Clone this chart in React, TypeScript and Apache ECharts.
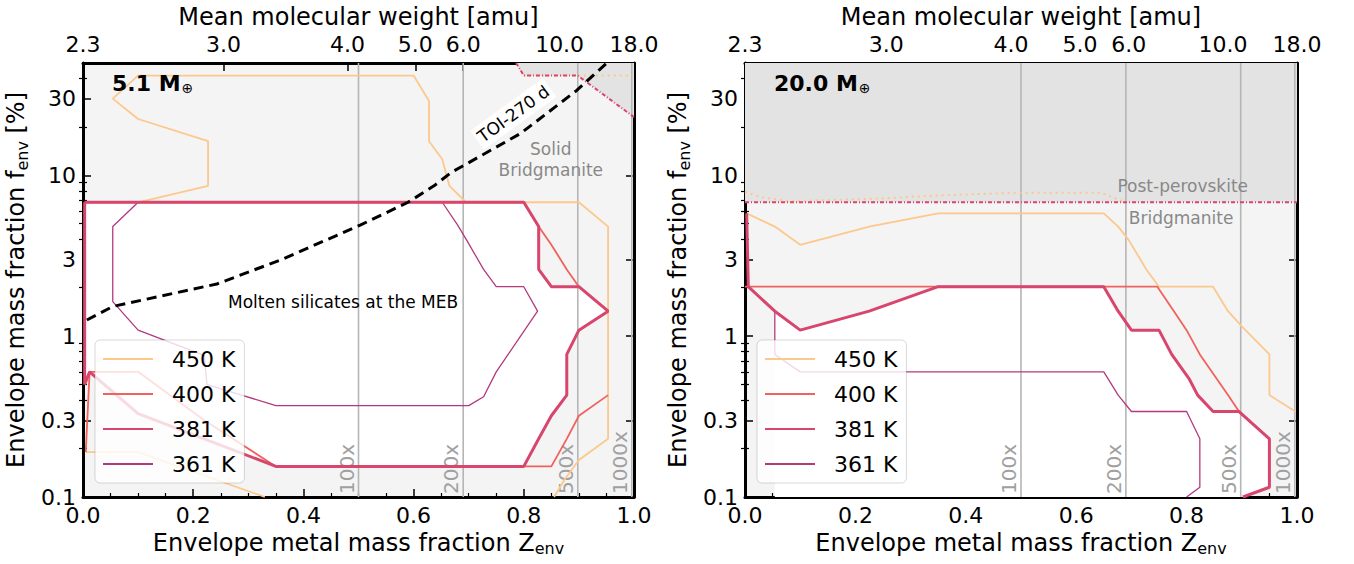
import React, { useEffect, useRef } from "react";
import * as echarts from "echarts";

const FONT = "DejaVu Sans";

// ---------- axes ----------
const muTickZLeft = [0, 0.255, 0.48, 0.603, 0.69, 0.865, 1.0];
const muTickZRight = [0, 0.256, 0.482, 0.607, 0.695, 0.866, 1.0];
const muLabels = ["2.3", "3.0", "4.0", "5.0", "6.0", "10.0", "18.0"];
const fMajorTicks = [0.1, 0.3, 1, 3, 10, 30];
const fMinorTicks = [0.2, 0.4, 0.5, 0.6, 0.7, 0.8, 0.9, 2, 4, 5, 6, 7, 8, 9, 20, 40];

// ---------- legend / temperatures ----------
const tempNames = ["450 K", "400 K", "381 K", "361 K"];
const tempColors = ["#fcc88d", "#f0625d", "#d8456d", "#b3397f"];
const tempWidths = [1.8, 1.8, 3, 1.3];

// ---------- metallicity reference lines ----------
const metallicityZ = [0.5, 0.69, 0.898, 0.996];
const metallicityLabels = ["100x", "200x", "500x", "1000x"];

// ---------- left panel: 5.1 Earth masses ----------
const left450Upper = [
  [0.1, 6.8], [0.227, 8.6], [0.227, 16.3], [0.1, 22.4], [0.054, 30], [0.1, 41.7],
  [0.6, 41.7], [0.628, 29], [0.628, 16.3], [0.652, 12.6], [0.665, 8.6], [0.695, 6.8],
  [0.9, 6.8], [0.953, 4.8], [0.953, 0.23], [0.9, 0.17], [0.875, 0.13], [0.855, 0.1],
];
const left450Lower = [[0.005, 0.19], [0.1, 0.19], [0.33, 0.1]];
const left400Upper = [
  [0.003, 6.8], [0.8, 6.8], [0.827, 4.8], [0.85, 3.7], [0.878, 2.6], [0.9, 2.03], [0.953, 1.43],
];
const left400Lower = [
  [0.953, 0.43], [0.9, 0.32], [0.878, 0.23], [0.85, 0.155], [0.35, 0.155], [0.22, 0.3],
  [0.1, 0.6], [0.012, 0.6], [0.005, 0.19],
];
const left381 = [
  [0.003, 6.8], [0.8, 6.8], [0.827, 4.8], [0.827, 2.6], [0.85, 2.03], [0.9, 2.03], [0.953, 1.43],
  [0.9, 1.09], [0.878, 0.77], [0.878, 0.43], [0.85, 0.32], [0.827, 0.23], [0.8, 0.155],
  [0.35, 0.155], [0.22, 0.23], [0.1, 0.33], [0.012, 0.6], [0.003, 0.5], [0.003, 6.8],
];
const left361 = [
  [0.652, 6.8], [0.1, 6.8], [0.054, 4.8], [0.054, 1.64], [0.1, 1.09], [0.22, 0.76], [0.225, 0.5],
  [0.35, 0.37], [0.7, 0.37], [0.727, 0.42], [0.75, 0.6], [0.825, 1.43], [0.8, 2.03], [0.75, 2.03],
  [0.727, 2.6], [0.696, 3.97], [0.68, 4.9], [0.652, 6.8],
];
const leftTOI = [
  [0.007, 1.26], [0.054, 1.53], [0.243, 2.11], [0.361, 3.0], [0.503, 4.9], [0.59, 6.8],
  [0.637, 8.6], [0.668, 10.4], [0.794, 18.2], [0.896, 33.7], [0.951, 50],
];
const leftPhaseLine = [[0.786, 50], [0.8, 41.7], [0.898, 41.7], [1.0, 23]];
const leftPhaseLine450 = [[0.8, 41.7], [1.0, 41.7]];
const leftMoltenRegion = [
  [0.003, 6.8], [0.8, 6.8], [0.827, 4.8], [0.827, 2.6], [0.85, 2.03], [0.9, 2.03], [0.953, 1.43],
  [0.9, 1.09], [0.878, 0.77], [0.878, 0.43], [0.85, 0.32], [0.827, 0.23], [0.8, 0.155],
  [0.35, 0.155], [0.22, 0.23], [0.1, 0.33], [0.012, 0.6], [0.003, 0.5],
];
const leftPostPerovskiteRegion = [[0.786, 50], [0.8, 41.7], [0.898, 41.7], [1.0, 23], [1.0, 50]];
const leftNotePos = [[0.472, 1.64], [0.849, 12.6], [0.781, 24.1]];
const leftNoteText = ["Molten silicates at the MEB", "Solid\nBridgmanite", "TOI-270 d"];

// ---------- right panel: 20.0 Earth masses ----------
const right450 = [
  [0.003, 5.8], [0.054, 4.8], [0.1, 3.7], [0.225, 4.8], [0.35, 5.8], [0.65, 5.8], [0.676, 4.8],
  [0.695, 3.97], [0.727, 2.6], [0.75, 2.03], [0.848, 2.03], [0.875, 1.43], [0.9, 1.15],
  [0.95, 0.77], [0.95, 0.43], [0.997, 0.34],
];
const right400 = [
  [0.0, 2.03], [0.747, 2.03], [0.777, 1.43], [0.8, 1.09], [0.824, 0.77], [0.852, 0.56],
  [0.875, 0.43], [0.895, 0.34],
];
const right381 = [
  [0.003, 5.8], [0.006, 2.03], [0.054, 1.43], [0.1, 1.09], [0.225, 1.43], [0.35, 2.03],
  [0.65, 2.03], [0.676, 1.43], [0.7, 1.09], [0.75, 1.09], [0.773, 0.77], [0.805, 0.54],
  [0.82, 0.43], [0.848, 0.34], [0.895, 0.34], [0.95, 0.23], [0.95, 0.115], [0.902, 0.1],
];
const right361 = [
  [0.006, 2.03], [0.054, 1.43], [0.054, 0.77], [0.1, 0.6], [0.65, 0.6], [0.676, 0.43],
  [0.7, 0.34], [0.8, 0.34], [0.824, 0.23], [0.824, 0.115], [0.8, 0.1],
];
const rightPhaseLine = [[0.0, 6.8], [1.0, 6.8]];
const rightPhaseLine450 = [
  [0.0, 7.9], [0.03, 7.3], [0.08, 6.9], [0.256, 7.2], [0.35, 7.5], [0.498, 7.8], [0.645, 7.8],
  [0.689, 6.8],
];
const rightMoltenRegion = [
  [0.054, 1.43], [0.1, 1.09], [0.225, 1.43], [0.35, 2.03], [0.65, 2.03], [0.676, 1.43],
  [0.7, 1.09], [0.75, 1.09], [0.773, 0.77], [0.805, 0.54], [0.82, 0.43], [0.848, 0.34],
  [0.895, 0.34], [0.95, 0.23], [0.95, 0.115], [0.902, 0.1], [0.054, 0.1],
];
const rightPostPerovskiteRegion = [[0.0, 6.8], [1.0, 6.8], [1.0, 50], [0.0, 50]];
const rightNotePos = [[0.793, 8.6], [0.79, 5.4]];
const rightNoteText = ["Post-perovskite", "Bridgmanite"];

const panelMass = ["5.1", "20.0"];

const noteStyles: Record<string, any> = {
  "Molten silicates at the MEB": { fill: "#000", rotation: 0 },
  "Solid\nBridgmanite": { fill: "#888888", rotation: 0 },
  "TOI-270 d": { fill: "#000", rotation: (36 * Math.PI) / 180, bg: "#ffffff" },
  "Post-perovskite": { fill: "#888888", rotation: 0 },
  Bridgmanite: { fill: "#888888", rotation: 0 },
};

function buildOption() {
  const grids = [
    { left: 83, top: 55, width: 551, height: 442 },
    { left: 745, top: 55, width: 552, height: 442 },
  ];
  const subRich = {
    a: { fontSize: 24, fontFamily: FONT, color: "#000" },
    s: { fontSize: 16, fontFamily: FONT, color: "#000", padding: [12, 0, 0, 0] },
  };
  const xAxis: any[] = [];
  const yAxis: any[] = [];
  grids.forEach((_, g) => {
    const muZ = g === 0 ? muTickZLeft : muTickZRight;
    xAxis.push({
      gridIndex: g, type: "value", min: 0, max: 1, interval: 0.2, position: "bottom",
      axisLine: { show: true, onZero: false, lineStyle: { color: "#000", width: 3 } },
      axisTick: { show: true, inside: true, length: 8, lineStyle: { color: "#000", width: 1.5 } },
      minorTick: { show: true, splitNumber: 4, length: 4, lineStyle: { color: "#000", width: 1.2 } },
      splitLine: { show: false },
      axisLabel: { fontSize: 22, color: "#000", fontFamily: FONT, margin: 7, formatter: (v: number) => v.toFixed(1) },
      name: "{a|Envelope metal mass fraction Z}{s|env}",
      nameLocation: "middle", nameGap: 31,
      nameTextStyle: { rich: subRich },
    });
    xAxis.push({
      gridIndex: g, type: "value", min: 0, max: 1, position: "top",
      axisLine: { show: true, onZero: false, lineStyle: { color: "#000", width: 3 } },
      axisTick: { show: true, inside: true, length: 8, customValues: muZ, lineStyle: { color: "#000", width: 1.5 } },
      axisLabel: {
        show: true, customValues: muZ, fontSize: 22, color: "#000", fontFamily: FONT, margin: 7,
        formatter: (v: number) => {
          let best = 0;
          muZ.forEach((p, i) => { if (Math.abs(p - v) < Math.abs(muZ[best] - v)) best = i; });
          return muLabels[best];
        },
      },
      splitLine: { show: false },
      name: "Mean molecular weight [amu]",
      nameLocation: "middle", nameGap: 30,
      nameTextStyle: { fontSize: 24, fontFamily: FONT, color: "#000" },
    });
    const yBase = {
      gridIndex: g, type: "log", logBase: 10, min: 0.1, max: 50,
      splitLine: { show: false },
      minorTick: { show: false },
    };
    const fmt = (v: number) => String(Math.round(v * 1000) / 1000);
    yAxis.push({
      ...yBase, position: "left",
      axisLine: { show: true, onZero: false, lineStyle: { color: "#000", width: 3 } },
      axisTick: { show: true, inside: true, length: 8, customValues: fMajorTicks, lineStyle: { color: "#000", width: 1.5 } },
      axisLabel: { show: true, customValues: fMajorTicks, formatter: fmt, fontSize: 22, color: "#000", fontFamily: FONT, margin: 7 },
      name: "{a|Envelope mass fraction f}{s|env}{a| [%]}",
      nameLocation: "middle", nameGap: 53,
      nameTextStyle: { rich: subRich },
    });
    yAxis.push({
      ...yBase, position: "left",
      axisLine: { show: false },
      axisTick: { show: true, inside: true, length: 4, customValues: fMinorTicks, lineStyle: { color: "#000", width: 1.2 } },
      axisLabel: { show: false },
    });
    yAxis.push({
      ...yBase, position: "right",
      axisLine: { show: true, onZero: false, lineStyle: { color: "#000", width: 3 } },
      axisTick: { show: true, inside: true, length: 8, customValues: fMajorTicks, lineStyle: { color: "#000", width: 1.5 } },
      axisLabel: { show: false },
    });
    yAxis.push({
      ...yBase, position: "right",
      axisLine: { show: false },
      axisTick: { show: true, inside: true, length: 4, customValues: fMinorTicks, lineStyle: { color: "#000", width: 1.2 } },
      axisLabel: { show: false },
    });
  });

  const series: any[] = [];
  const polygon = (g: number, pts: number[][], color: string, z: number) => ({
    type: "custom", name: "region", coordinateSystem: "cartesian2d",
    xAxisIndex: 2 * g, yAxisIndex: 4 * g, data: pts, encode: { x: 0, y: 1 }, z, silent: true,
    renderItem: (params: any, api: any) => {
      if (params.dataIndex !== 0) return null;
      return { type: "polygon", shape: { points: pts.map((p) => api.coord(p)) }, style: { fill: color } };
    },
  });
  const line = (g: number, name: string, pts: number[][], color: string, width: number, z: number, type: any = "solid") => ({
    type: "line", name, xAxisIndex: 2 * g, yAxisIndex: 4 * g, data: pts, z,
    symbol: "none", showSymbol: false, silent: true, emphasis: { disabled: true },
    color, itemStyle: { color },
    lineStyle: { color, width, type },
  });
  const metal = (g: number) => ({
    type: "custom", name: "metallicity", coordinateSystem: "cartesian2d",
    xAxisIndex: 2 * g, yAxisIndex: 4 * g, data: metallicityZ.map((z) => [z, 0.1]),
    encode: { x: 0, y: 1 }, z: 2, silent: true,
    renderItem: (params: any, api: any) => {
      const z = metallicityZ[params.dataIndex];
      const bot = api.coord([z, 0.1]);
      const top = api.coord([z, 50]);
      return {
        type: "group",
        children: [
          { type: "line", shape: { x1: bot[0], y1: bot[1], x2: top[0], y2: top[1] }, style: { stroke: "#b5b5b5", lineWidth: 1.6 } },
          {
            type: "text", x: bot[0] - 2, y: bot[1] - 3, rotation: Math.PI / 2,
            style: { text: metallicityLabels[params.dataIndex], fill: "#a0a0a0", font: `20px "${FONT}"`, align: "left", verticalAlign: "bottom" },
          },
        ],
      };
    },
  });
  const notes = (g: number, pos: number[][], texts: string[]) => ({
    type: "custom", name: "notes", coordinateSystem: "cartesian2d",
    xAxisIndex: 2 * g, yAxisIndex: 4 * g, data: pos, encode: { x: 0, y: 1 }, z: 8, silent: true,
    renderItem: (params: any, api: any) => {
      const t = texts[params.dataIndex];
      const st = noteStyles[t];
      const c = api.coord(pos[params.dataIndex]);
      return {
        type: "text", x: c[0], y: c[1], rotation: st.rotation,
        style: {
          text: t, fill: st.fill, font: `17px "${FONT}"`, align: "center", verticalAlign: "middle",
          lineHeight: 21, backgroundColor: st.bg, padding: st.bg ? [1, 3, 1, 3] : 0,
        },
      };
    },
  });

  // left panel
  series.push(polygon(0, leftMoltenRegion, "#ffffff", 1));
  series.push(polygon(0, leftPostPerovskiteRegion, "#e3e3e3", 1));
  series.push(metal(0));
  series.push(line(0, tempNames[0], left450Upper, tempColors[0], tempWidths[0], 3));
  series.push(line(0, tempNames[0], left450Lower, tempColors[0], tempWidths[0], 3));
  series.push(line(0, tempNames[1], left400Upper, tempColors[1], tempWidths[1], 4));
  series.push(line(0, tempNames[1], left400Lower, tempColors[1], tempWidths[1], 4));
  series.push(line(0, tempNames[3], left361, tempColors[3], tempWidths[3], 5));
  series.push(line(0, tempNames[2], left381, tempColors[2], tempWidths[2], 6));
  series.push(line(0, "pp450", leftPhaseLine450, tempColors[0], 2, 6, [2, 4]));
  series.push(line(0, "pp381", leftPhaseLine, "#d94470", 2, 7, [4, 2, 1, 2]));
  series.push(line(0, "TOI-270 d", leftTOI, "#000000", 3, 7, [10, 6]));
  series.push(notes(0, leftNotePos, leftNoteText));

  // right panel
  series.push(polygon(1, rightPostPerovskiteRegion, "#e3e3e3", 1));
  series.push(polygon(1, rightMoltenRegion, "#ffffff", 1));
  series.push(metal(1));
  series.push(line(1, tempNames[0], right450, tempColors[0], tempWidths[0], 3));
  series.push(line(1, tempNames[1], right400, tempColors[1], tempWidths[1], 4));
  series.push(line(1, tempNames[3], right361, tempColors[3], tempWidths[3], 5));
  series.push(line(1, tempNames[2], right381, tempColors[2], tempWidths[2], 6));
  series.push(line(1, "pp450r", rightPhaseLine450, tempColors[0], 2, 6, [2, 4]));
  series.push(line(1, "pp381r", rightPhaseLine, "#d94470", 2, 7, [4, 2, 1, 2]));
  series.push(notes(1, rightNotePos, rightNoteText));

  const legendBase = {
    orient: "vertical", top: 340, itemWidth: 50, itemHeight: 2, itemGap: 13, z: 50,
    data: tempNames, icon: "rect",
    textStyle: { fontSize: 22, lineHeight: 22, fontFamily: FONT, color: "#000", padding: [0, 0, 0, 14] },
    backgroundColor: "rgba(255,255,255,0.8)", borderColor: "rgba(0,0,0,0.15)", borderWidth: 1,
    borderRadius: 5, padding: [8, 9, 8, 8], selectedMode: false,
  };

  const massText = (g: number) => ({
    type: "text", left: g === 0 ? 112 : 774, top: 72, z: 100,
    style: {
      text: `{b|${panelMass[g]} M}{s|⊕}`,
      rich: {
        b: { fontSize: 22, fontWeight: "bold", fontFamily: FONT, fill: "#000", color: "#000" },
        s: { fontSize: 14, fontFamily: FONT, fill: "#000", color: "#000", padding: [9, 0, 0, 1] },
      },
    },
  });

  return {
    animation: false,
    textStyle: { fontFamily: FONT },
    grid: grids.map((g) => ({ ...g, show: true, backgroundColor: "#f4f4f4", borderWidth: 0 })),
    xAxis, yAxis, series,
    legend: [
      { ...legendBase, left: 95 },
      { ...legendBase, left: 757 },
    ],
    graphic: [massText(0), massText(1)],
  };
}

export default function App() {
  const ref = useRef<HTMLDivElement>(null);
  useEffect(() => {
    document.body.style.margin = "0";
    const chart = echarts.init(ref.current!, null, { renderer: "svg" });
    chart.setOption(buildOption() as any);
    return () => chart.dispose();
  }, []);
  return <div ref={ref} style={{ width: 1354, height: 564 }} />;
}
